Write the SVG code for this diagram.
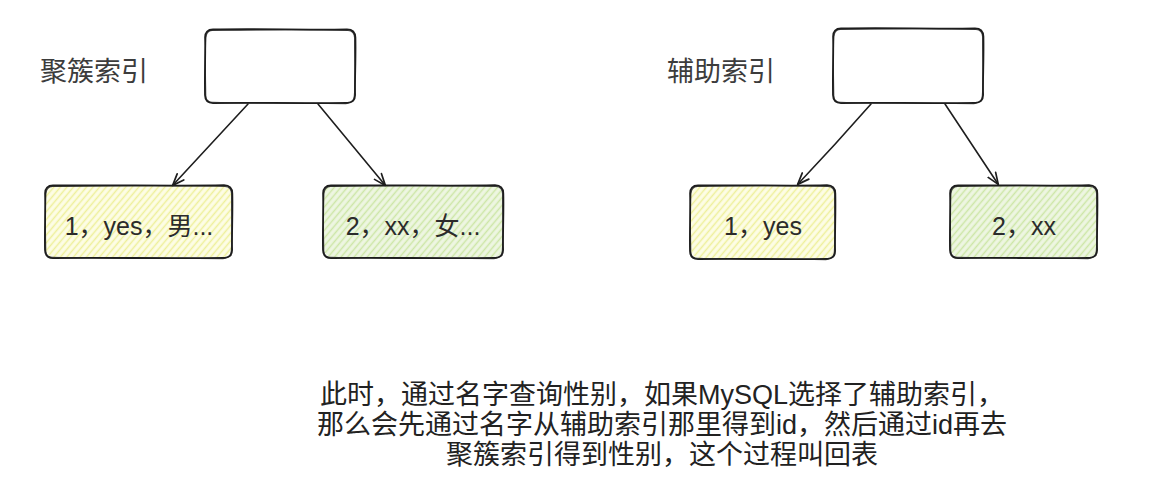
<svg xmlns="http://www.w3.org/2000/svg" width="1154" height="492" viewBox="0 0 1154 492">
  <style>
    .title{font-family:"Noto Sans CJK SC","Noto Sans",sans-serif;font-size:27px;fill:#3c3c3c}
    .val{font-family:"Liberation Sans","Noto Sans CJK SC",sans-serif;font-size:25px;fill:#2b2b2b;text-anchor:middle}
    .note{font-family:"Liberation Sans","Noto Sans CJK SC",sans-serif;font-size:27px;fill:#222;text-anchor:middle}
    .stroke{fill:none;stroke:#1e1e1e;stroke-width:1.8;stroke-linejoin:round;stroke-linecap:round}
    .stroke2{fill:none;stroke:#1e1e1e;stroke-width:1.1;stroke-linejoin:round;stroke-linecap:round;opacity:.8}
    .edge{fill:none;stroke:#1e1e1e;stroke-width:1.6;stroke-linecap:round}
  </style>
  <defs>
    <!-- hachure fills -->
    <pattern id="hatchYellow" patternUnits="userSpaceOnUse" width="5" height="5" patternTransform="rotate(40)">
      <rect width="5" height="5" fill="#fdfde6"/>
      <line x1="1.5" y1="0" x2="1.5" y2="5" stroke="#eef09a" stroke-width="1.5"/>
    </pattern>
    <pattern id="hatchGreen" patternUnits="userSpaceOnUse" width="5" height="5" patternTransform="rotate(40)">
      <rect width="5" height="5" fill="#eef6e2"/>
      <line x1="1.5" y1="0" x2="1.5" y2="5" stroke="#cde6a6" stroke-width="1.5"/>
    </pattern>
    <marker id="arrow" viewBox="0 0 14 14" refX="12" refY="7" markerWidth="14" markerHeight="14" markerUnits="userSpaceOnUse" orient="auto">
      <path d="M1,2.5 L12.5,7 L1,11.5" fill="none" stroke="#1e1e1e" stroke-width="1.7" stroke-linecap="round" stroke-linejoin="round"/>
    </marker>
  </defs>

  <rect width="1154" height="492" fill="#ffffff"/>

  <!-- clustered index side -->
  <text class="title" x="40" y="81">聚簇索引</text>
  <g id="clustered-root">
    <path class="stroke" d="M213,29.5 C260,28.6 310,30.2 347,29.3 Q355.2,29.4 355.4,37.5 C355.9,60 354.6,80 355.1,95 Q355,103 347,102.8 C300,103.6 250,102.4 213,103.1 Q205.2,103 205,95 C204.6,70 205.6,50 205.1,37.5 Q205,29.6 213,29.5 Z"/>
    <path class="stroke2" d="M212,30.4 C262,29.8 308,29.1 348,30.5 Q354.4,30.8 354.6,38 C354.4,62 355.8,78 354.3,96 Q354.2,102.2 346,103.6 C298,102.6 252,103.8 212.5,102.3 Q206,102.3 205.8,96 C205.4,72 204.8,52 205.9,38 Q206.2,30.8 212,30.4 Z"/>
  </g>
  <g id="clustered-row1">
    <rect x="46" y="186" width="185" height="71" rx="8" fill="url(#hatchYellow)"/>
    <path class="stroke" d="M53,185.5 C100,184.7 180,186.3 224,185.2 Q232.2,185.4 232.3,193.5 C232.8,215 231.6,235 232.1,250 Q232,258 224,257.8 C170,258.6 100,257.4 53,258.1 Q45.2,258 45,250 C44.6,230 45.6,210 45.1,193.5 Q45,185.6 53,185.5 Z"/>
    <path class="stroke2" d="M52.5,186.4 C110,185.8 170,185.1 225,186.4 Q231.4,186.8 231.6,194 C231.4,218 232.6,232 231.3,251 Q231.2,257.2 223,258.6 C160,257.6 110,258.8 52.5,257.3 Q46,257.3 45.8,251 C45.4,228 44.8,212 45.9,194 Q46.2,186.8 52.5,186.4 Z"/>
    <text class="val" x="139" y="235">1，yes，男...</text>
  </g>
  <g id="clustered-row2">
    <rect x="324" y="186" width="178" height="71" rx="8" fill="url(#hatchGreen)"/>
    <path class="stroke" d="M331,185.5 C380,184.7 450,186.3 495,185.2 Q503.2,185.4 503.3,193.5 C503.8,215 502.6,235 503.1,250 Q503,258 495,257.8 C440,258.6 380,257.4 331,258.1 Q323.2,258 323,250 C322.6,230 323.6,210 323.1,193.5 Q323,185.6 331,185.5 Z"/>
    <path class="stroke2" d="M330.5,186.4 C390,185.8 440,185.1 496,186.4 Q502.4,186.8 502.6,194 C502.4,218 503.6,232 502.3,251 Q502.2,257.2 494,258.6 C430,257.6 390,258.8 330.5,257.3 Q324,257.3 323.8,251 C323.4,228 322.8,212 323.9,194 Q324.2,186.8 330.5,186.4 Z"/>
    <text class="val" x="413" y="235">2，xx，女...</text>
  </g>

  <!-- secondary index side -->
  <text class="title" x="667" y="81">辅助索引</text>
  <g id="secondary-root">
    <path class="stroke" d="M841,28.5 C888,27.6 938,29.2 975,28.3 Q983.2,28.4 983.4,36.5 C983.9,60 982.6,80 983.1,95 Q983,103 975,102.8 C928,103.6 878,102.4 841,103.1 Q833.2,103 833,95 C832.6,70 833.6,50 833.1,36.5 Q833,28.6 841,28.5 Z"/>
    <path class="stroke2" d="M840,29.4 C890,28.8 936,28.1 976,29.5 Q982.4,29.8 982.6,37 C982.4,62 983.8,78 982.3,96 Q982.2,102.2 974,103.6 C926,102.6 880,103.8 840.5,102.3 Q834,102.3 833.8,96 C833.4,72 832.8,52 833.9,37 Q834.2,29.8 840,29.4 Z"/>
  </g>
  <g id="secondary-row1">
    <rect x="691" y="186" width="143" height="72" rx="8" fill="url(#hatchYellow)"/>
    <path class="stroke" d="M698,185.5 C740,184.7 790,186.3 827,185.2 Q835.2,185.4 835.3,193.5 C835.8,215 834.6,236 835.1,251 Q835,259 827,258.8 C780,259.6 740,258.4 698,259.1 Q690.2,259 690,251 C689.6,230 690.6,210 690.1,193.5 Q690,185.6 698,185.5 Z"/>
    <path class="stroke2" d="M697.5,186.4 C745,185.8 785,185.1 828,186.4 Q834.4,186.8 834.6,194 C834.4,218 835.6,233 834.3,252 Q834.2,258.2 826,259.6 C775,258.6 745,259.8 697.5,258.3 Q691,258.3 690.8,252 C690.4,228 689.8,212 690.9,194 Q691.2,186.8 697.5,186.4 Z"/>
    <text class="val" x="763" y="235">1，yes</text>
  </g>
  <g id="secondary-row2">
    <rect x="951" y="186" width="145" height="71" rx="8" fill="url(#hatchGreen)"/>
    <path class="stroke" d="M958,185.5 C1000,184.7 1050,186.3 1089,185.2 Q1097.2,185.4 1097.3,193.5 C1097.8,215 1096.6,235 1097.1,250 Q1097,258 1089,257.8 C1040,258.6 1000,257.4 958,258.1 Q950.2,258 950,250 C949.6,230 950.6,210 950.1,193.5 Q950,185.6 958,185.5 Z"/>
    <path class="stroke2" d="M957.5,186.4 C1005,185.8 1045,185.1 1090,186.4 Q1096.4,186.8 1096.6,194 C1096.4,218 1097.6,232 1096.3,251 Q1096.2,257.2 1088,258.6 C1035,257.6 1005,258.8 957.5,257.3 Q951,257.3 950.8,251 C950.4,228 949.8,212 950.9,194 Q951.2,186.8 957.5,186.4 Z"/>
    <text class="val" x="1024" y="235">2，xx</text>
  </g>

  <!-- connectors -->
  <g id="connectors">
    <path class="edge" d="M248,104 Q210,145 173,185" marker-end="url(#arrow)"/>
    <path class="edge" d="M318,104 Q352,145 385,185" marker-end="url(#arrow)"/>
    <path class="edge" d="M871,104 Q835,145 798,184" marker-end="url(#arrow)"/>
    <path class="edge" d="M945,104 Q972,145 998,184" marker-end="url(#arrow)"/>
  </g>

  <!-- explanation -->
  <g id="note">
    <text class="note" x="662" y="404">此时，通过名字查询性别，如果MySQL选择了辅助索引，</text>
    <text class="note" x="662" y="434">那么会先通过名字从辅助索引那里得到id，然后通过id再去</text>
    <text class="note" x="662" y="464">聚簇索引得到性别，这个过程叫回表</text>
  </g>
</svg>
